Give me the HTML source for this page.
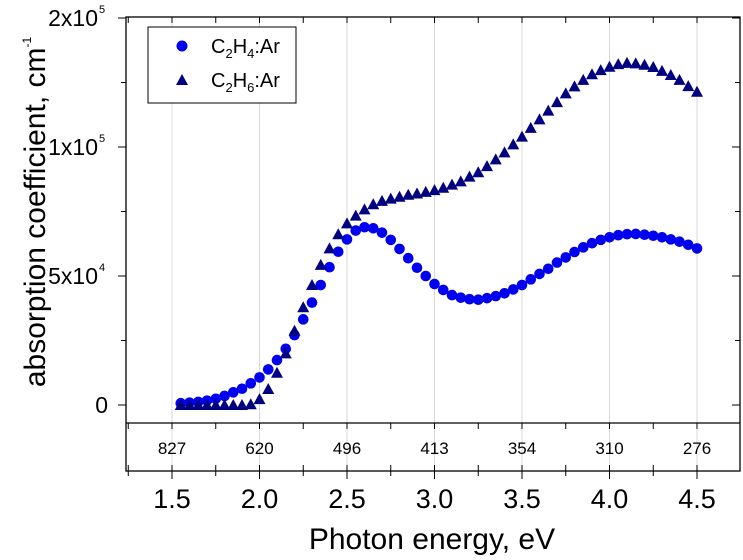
<!DOCTYPE html>
<html><head><meta charset="utf-8"><style>
body{margin:0;background:#fff;}
svg{display:block;font-family:"Liberation Sans",Arial,sans-serif;}
</style></head><body>
<svg id="chart" width="743" height="560" viewBox="0 0 743 560" xmlns="http://www.w3.org/2000/svg">
<g id="grid"></g>
<g id="axes"></g>
<g id="series"></g>
<text transform="translate(45,212) rotate(-90)" text-anchor="middle" font-size="30">absorption coefficient, cm<tspan dy="-14" font-size="12">-1</tspan></text>
<text x="432" y="549" text-anchor="middle" font-size="30">Photon energy, eV</text>
<g>
<rect x="148" y="27" width="148" height="76" fill="#fff" stroke="#000" stroke-width="1"/>
<circle cx="182" cy="46" r="5.5" fill="#0000ee"/>
<text x="211" y="53" font-size="20">C<tspan dy="5" font-size="13">2</tspan><tspan dy="-5">H</tspan><tspan dy="5" font-size="13">4</tspan><tspan dy="-5">:Ar</tspan></text>
<polygon points="182,74 188,85 176,85" fill="#000080"/>
<text x="211" y="87" font-size="20">C<tspan dy="5" font-size="13">2</tspan><tspan dy="-5">H</tspan><tspan dy="5" font-size="13">6</tspan><tspan dy="-5">:Ar</tspan></text>
</g>
</svg>
<script>
const energies = [];
for (let i = 0; i < 60; i++) energies.push(+(1.55 + i * 0.05).toFixed(2));
const c2h4Values = [0.7,0.9,1.2,1.7,2.4,3.5,4.9,6.3,8.4,10.7,13.8,17.4,21.8,27.1,33.2,39.7,46.5,53.4,59.4,64.2,67.6,68.9,68.5,66.8,64.0,60.5,56.9,53.2,50.0,46.9,44.6,42.6,41.6,41.0,40.8,41.4,42.2,43.3,44.8,46.5,48.7,50.8,52.8,55.2,57.2,59.3,61.1,62.7,64.0,65.0,65.8,66.2,66.3,66.0,65.6,65.0,64.2,63.3,62.1,60.7];
const c2h6Values = [0,0,0,0,0,0,0,0,0.3,2.3,6.2,12.5,20.0,28.8,37.9,46.5,54.3,60.7,66.2,70.4,73.4,75.8,77.8,79.1,80.0,80.7,81.5,82.0,82.6,83.3,84.2,85.4,86.7,88.5,90.2,92.6,95.2,97.9,101.0,104.0,107.4,110.7,114.1,117.4,120.8,123.5,126.0,128.2,129.8,131.1,132.1,132.6,132.4,131.9,131.0,129.5,127.9,126.0,123.6,121.4];
const xTickValues = [1.5,2.0,2.5,3.0,3.5,4.0,4.5];
const xTickLabels = ["1.5","2.0","2.5","3.0","3.5","4.0","4.5"];
const wavelengthLabels = ["827","620","496","413","354","310","276"];
const yTickValues = [0,50,100,150];
const yTickBase = ["0","5x10","1x10","2x10"];
const yTickExp = ["","4","5","5"];

const NS = "http://www.w3.org/2000/svg";
const L = 126, R = 740, T = 17, B = 423, S = 471;
function xs(e){ return 172 + (e - 1.5) * 175; }
function ys(v){ return 405 - v / 50 * 129; }
function mk(tag, attrs, parent){
  const el = document.createElementNS(NS, tag);
  for (const k in attrs) el.setAttribute(k, attrs[k]);
  parent.appendChild(el);
  return el;
}
const grid = document.getElementById('grid');
const axes = document.getElementById('axes');
const series = document.getElementById('series');

xTickValues.forEach((v) => {
  const g = mk('line', {x1: xs(v), x2: xs(v), y1: T, y2: S, stroke: '#d8d8d8', 'stroke-width': 1}, grid);
  
  
});

const fr = mk('rect', {x: L, y: T, width: R - L, height: S - T, fill: 'none', stroke: '#000', 'stroke-width': 1.3}, axes);


const sep = mk('line', {x1: L, x2: R, y1: B, y2: B, stroke: '#000', 'stroke-width': 1.3}, axes);



for (let k = 0; k <= 13; k++) {
  const e = 1.25 + k * 0.25;
  const x = xs(e);
  if (x < L || x > R) continue;
  const major = Math.abs(e * 2 - Math.round(e * 2)) < 1e-6;
  mk('line', {x1: x, x2: x, y1: T, y2: T + 6, stroke: '#000', 'stroke-width': 1}, axes);
  mk('line', {x1: x, x2: x, y1: B, y2: B + 6, stroke: '#000', 'stroke-width': 1}, axes);
  mk('line', {x1: x, x2: x, y1: S, y2: S - 6, stroke: '#000', 'stroke-width': 1}, axes);
  mk('line', {x1: x, x2: x, y1: S, y2: S + (major ? 8 : 5), stroke: '#000', 'stroke-width': 1}, axes);
}
xTickValues.forEach((v, i) => {
  const t = mk('text', {x: xs(v), y: 508, 'text-anchor': 'middle', 'font-size': 27}, axes);
  t.textContent = xTickLabels[i];
  
  
  const w = mk('text', {x: xs(v), y: 454, 'text-anchor': 'middle', 'font-size': 17}, axes);
  w.textContent = wavelengthLabels[i];
  
  
});

yTickValues.forEach((v, i) => {
  const y = ys(v);
  mk('line', {x1: L - 8, x2: L, y1: y, y2: y, stroke: '#000', 'stroke-width': 1}, axes);
  mk('line', {x1: R - 8, x2: R, y1: y, y2: y, stroke: '#000', 'stroke-width': 1}, axes);
  if (i < yTickValues.length - 1) {
    const ym = ys((v + yTickValues[i + 1]) / 2);
    mk('line', {x1: L - 5, x2: L, y1: ym, y2: ym, stroke: '#000', 'stroke-width': 1}, axes);
    mk('line', {x1: R - 5, x2: R, y1: ym, y2: ym, stroke: '#000', 'stroke-width': 1}, axes);
  }
  const t = mk('text', {x: yTickExp[i] ? 98 : 108, y: y + 8, 'text-anchor': 'end', 'font-size': 23}, axes);
  t.textContent = yTickBase[i];
  
  
  if (yTickExp[i]) {
    const s = mk('text', {x: 99, y: y - 5, 'font-size': 11}, axes);
    s.textContent = yTickExp[i];
    
    
  }
});

energies.forEach((e, i) => {
  const c = mk('circle', {cx: xs(e), cy: ys(c2h4Values[i]), r: 5.3, fill: '#0000ee'}, series);
  
  
});
energies.forEach((e, i) => {
  const x = xs(e), y = ys(c2h6Values[i]);
  const p = mk('polygon', {points: `${x},${y-6} ${x+6},${y+5} ${x-6},${y+5}`, fill: '#000080'}, series);
  
  
});
</script>
</body></html>
